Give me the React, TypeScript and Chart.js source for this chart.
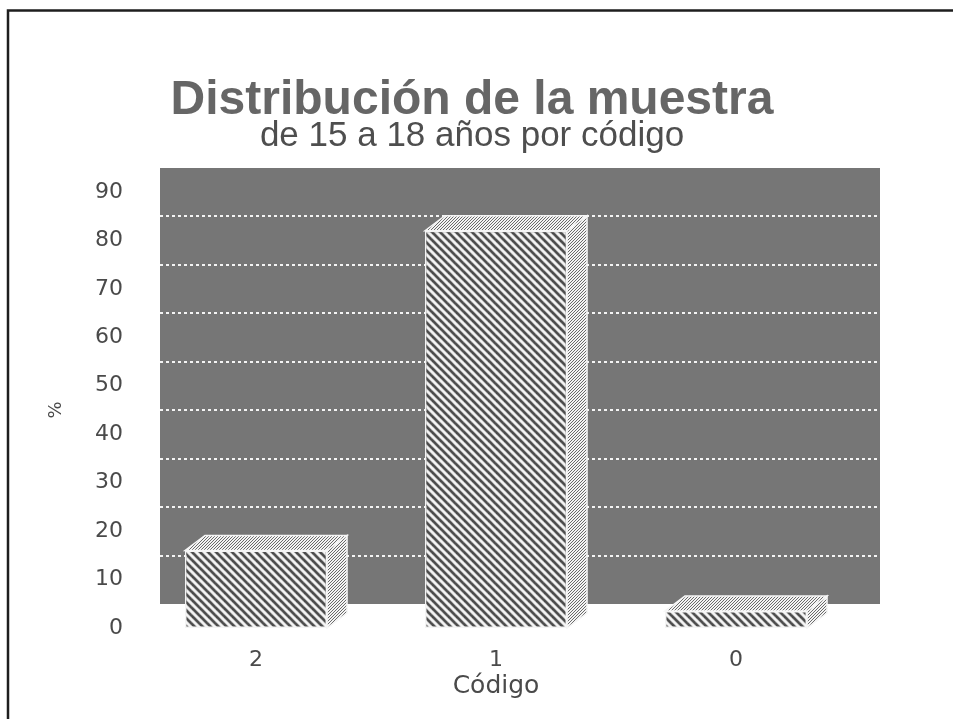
import React, { useEffect, useRef } from "react";
import { Chart, registerables } from "chart.js";

Chart.register(...registerables);

// ---- data ----
const categories = ["2", "1", "0"];
const percentages = [16, 82, 3.5];
const yMin = 0;
const yMax = 90;
const yStep = 10;
const titleText = "Distribución de la muestra";
const subtitleText = "de 15 a 18 años por código";
const xTitleText = "Código";
const yTitleText = "%";

const W = 953;
const H = 719;
const WALL_DX = 24;
const WALL_DY = 24;
const BAR_DX = 20;
const BAR_DY = 15;

function makeHatch(): CanvasPattern | string {
  const s = 8;
  const c = document.createElement("canvas");
  c.width = s;
  c.height = s;
  const g = c.getContext("2d");
  if (!g) return "#999";
  g.fillStyle = "#b4b4b4";
  g.fillRect(0, 0, s, s);
  g.lineCap = "square";
  for (let i = -1; i <= 1; i++) {
    g.strokeStyle = "#4a4a4a";
    g.lineWidth = 2.2;
    g.beginPath();
    g.moveTo(i * s, 0);
    g.lineTo(i * s + s, s);
    g.stroke();
    g.strokeStyle = "#f6f6f6";
    g.lineWidth = 2;
    g.beginPath();
    g.moveTo(i * s + 4, 0);
    g.lineTo(i * s + 4 + s, s);
    g.stroke();
  }
  const p = g.createPattern(c, "repeat");
  return p || "#999";
}

function makeDots(): CanvasPattern | string {
  const c = document.createElement("canvas");
  c.width = 3;
  c.height = 3;
  const g = c.getContext("2d");
  if (!g) return "#ccc";
  g.fillStyle = "#f4f4f4";
  g.fillRect(0, 0, 3, 3);
  g.fillStyle = "#6a6a6a";
  g.fillRect(0, 0, 1, 1);
  g.fillRect(2, 1, 1, 1);
  g.fillRect(1, 2, 1, 1);
  const p = g.createPattern(c, "repeat");
  return p || "#ccc";
}

const threeDPlugin = {
  id: "threeD",
  beforeDraw(chart: any) {
    const ctx = chart.ctx as CanvasRenderingContext2D;
    ctx.save();
    ctx.fillStyle = "#ffffff";
    ctx.fillRect(0, 0, chart.width, chart.height);
    ctx.strokeStyle = "#1e1e1e";
    ctx.lineWidth = 2.5;
    ctx.beginPath();
    ctx.moveTo(8, 719);
    ctx.lineTo(8, 10.5);
    ctx.lineTo(953, 10.5);
    ctx.stroke();
    ctx.restore();
  },
  beforeDatasetsDraw(chart: any) {
    const ctx = chart.ctx as CanvasRenderingContext2D;
    const area = chart.chartArea;
    const y = chart.scales.y;
    const top = y.getPixelForValue(y.max) - WALL_DY;
    const bottom = y.getPixelForValue(y.min) - WALL_DY;
    const left = area.left + WALL_DX;
    const right = area.right + WALL_DX;
    ctx.save();
    ctx.fillStyle = "#767676";
    ctx.fillRect(left, top, right - left, bottom - top);
    ctx.strokeStyle = "#f4f4f4";
    ctx.lineWidth = 2;
    ctx.setLineDash([3, 3]);
    y.ticks.forEach((t: any) => {
      if (t.value > y.min && t.value < y.max) {
        const py = Math.round(y.getPixelForValue(t.value) - WALL_DY);
        ctx.beginPath();
        ctx.moveTo(left, py);
        ctx.lineTo(right, py);
        ctx.stroke();
      }
    });
    ctx.restore();
  },
  afterDatasetsDraw(chart: any) {
    const ctx = chart.ctx as CanvasRenderingContext2D;
    const meta = chart.getDatasetMeta(0);
    const dots = makeDots();
    ctx.save();
    meta.data.forEach((bar: any) => {
      const { x, y, base, width } = bar.getProps(["x", "y", "base", "width"], true);
      const l = x - width / 2;
      const r = x + width / 2;
      ctx.fillStyle = dots as any;
      ctx.strokeStyle = "#f6f6f6";
      ctx.lineWidth = 1.5;
      // top face
      ctx.beginPath();
      ctx.moveTo(l, y);
      ctx.lineTo(l + BAR_DX, y - BAR_DY);
      ctx.lineTo(r + BAR_DX, y - BAR_DY);
      ctx.lineTo(r, y);
      ctx.closePath();
      ctx.fill();
      ctx.stroke();
      // side face
      ctx.beginPath();
      ctx.moveTo(r, y);
      ctx.lineTo(r + BAR_DX, y - BAR_DY);
      ctx.lineTo(r + BAR_DX, base - BAR_DY);
      ctx.lineTo(r, base);
      ctx.closePath();
      ctx.fill();
      ctx.stroke();
    });
    ctx.restore();
  },
};

export default function App() {
  const ref = useRef<HTMLCanvasElement | null>(null);

  useEffect(() => {
    document.body.style.margin = "0";
    const canvas = ref.current;
    if (!canvas) return;
    const chart = new Chart(canvas, {
      type: "bar",
      data: {
        labels: categories,
        datasets: [
          {
            label: "%",
            data: percentages,
            backgroundColor: makeHatch() as any,
            borderColor: "#f4f4f4",
            borderWidth: 1.5,
            borderSkipped: false,
            categoryPercentage: 1,
            barPercentage: 0.592,
          },
        ],
      },
      options: {
        animation: false,
        responsive: false,
        devicePixelRatio: 1,
        layout: { padding: { left: 0, right: 9, top: 0, bottom: 0 } },
        plugins: {
          legend: { display: false },
          tooltip: { enabled: false },
          title: {
            display: true,
            text: titleText,
            color: "#666666",
            font: { family: "'Liberation Sans', Arial, sans-serif", size: 48, weight: "bold", lineHeight: 0.9 },
            padding: { top: 79, bottom: 0 },
          },
          subtitle: {
            display: true,
            text: subtitleText,
            color: "#4e4e4e",
            font: { family: "'Liberation Sans', Arial, sans-serif", size: 35, weight: "normal", lineHeight: 0.8 },
            padding: { top: 0, bottom: 41.8 },
          },
        },
        scales: {
          x: {
            grid: { display: false, drawTicks: false },
            border: { display: false },
            ticks: {
              color: "#4a4a4a",
              padding: 19,
              font: { family: "'DejaVu Sans', sans-serif", size: 22 },
            },
            title: {
              display: true,
              text: xTitleText,
              color: "#4a4a4a",
              font: { family: "'DejaVu Sans', sans-serif", size: 25 },
              padding: { top: 0, bottom: 18 },
            },
            afterFit: (s: any) => {
              s.height = 91;
            },
          },
          y: {
            min: yMin,
            max: yMax,
            grid: { display: false, drawTicks: false },
            border: { display: false },
            ticks: {
              stepSize: yStep,
              color: "#4a4a4a",
              padding: 13,
              font: { family: "'DejaVu Sans', sans-serif", size: 22 },
            },
            title: {
              display: true,
              text: yTitleText,
              color: "#4a4a4a",
              font: { family: "'DejaVu Sans', sans-serif", size: 18 },
              padding: { top: 46, bottom: 0 },
            },
            afterFit: (s: any) => {
              s.width = 136;
            },
          },
          y2: {
            position: "right",
            min: 0,
            max: 1,
            grid: { display: false, drawTicks: false },
            border: { display: false },
            ticks: { display: false },
            afterFit: (s: any) => {
              s.width = 88;
            },
          },
        },
      },
      plugins: [threeDPlugin],
    });
    return () => chart.destroy();
  }, []);

  return (
    <div style={{ width: W, height: H }}>
      <canvas ref={ref} width={W} height={H} style={{ display: "block" }} />
    </div>
  );
}
